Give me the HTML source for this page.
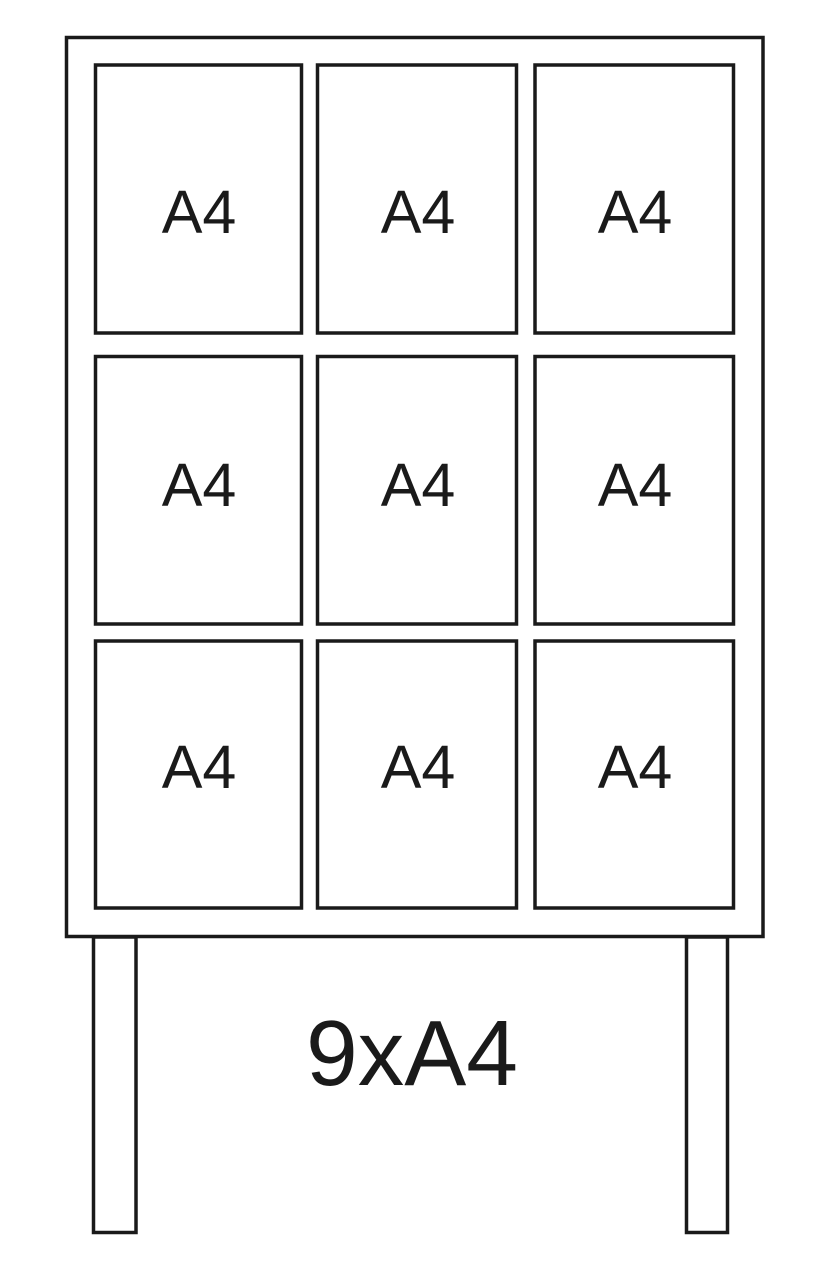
<!DOCTYPE html>
<html><head><meta charset="utf-8"><style>
html,body{margin:0;padding:0;background:#fff;}
svg{display:block;}
text{font-family:"Liberation Sans",Arial,sans-serif;fill:#1a1a1a;}
</style></head><body>
<svg width="825" height="1288" viewBox="0 0 825 1288" xmlns="http://www.w3.org/2000/svg">
<g fill="none" stroke="#1a1a1a" stroke-width="3.5">
<rect x="66.5" y="37.5" width="696.5" height="899"/>
<rect x="95.5" y="65" width="206" height="268"/>
<rect x="317.5" y="65" width="199" height="268"/>
<rect x="535" y="65" width="198.5" height="268"/>
<rect x="95.5" y="356.5" width="206" height="267.5"/>
<rect x="317.5" y="356.5" width="199" height="267.5"/>
<rect x="535" y="356.5" width="198.5" height="267.5"/>
<rect x="95.5" y="641" width="206" height="267"/>
<rect x="317.5" y="641" width="199" height="267"/>
<rect x="535" y="641" width="198.5" height="267"/>
<rect x="93.5" y="937" width="42.5" height="295.5"/>
<rect x="686.5" y="937" width="41" height="295.5"/>
</g>
<g font-size="61" text-anchor="middle">
<text x="199" y="233">A4</text><text x="418" y="233">A4</text><text x="635" y="233">A4</text>
<text x="199" y="506">A4</text><text x="418" y="506">A4</text><text x="635" y="506">A4</text>
<text x="199" y="788">A4</text><text x="418" y="788">A4</text><text x="635" y="788">A4</text>
</g>
<text x="412" y="1085" font-size="93" text-anchor="middle">9xA4</text>
</svg>
</body></html>
